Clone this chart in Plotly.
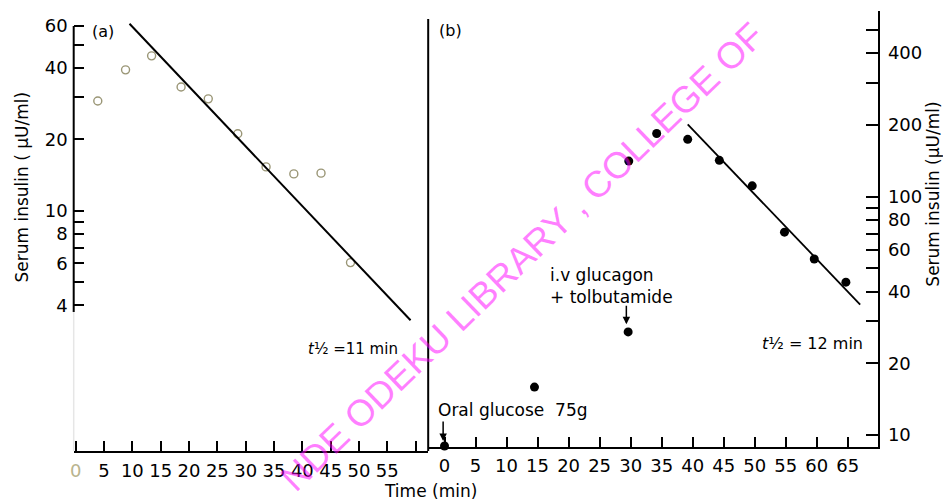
import plotly.graph_objects as go
import math

# ---------------- data ----------------
# Panel (a): open circles
time_a = [3.9, 8.8, 13.4, 18.6, 23.4, 28.6, 33.6, 38.5, 43.3, 48.5]
insulin_a = [29.0, 39.2, 44.9, 33.2, 29.6, 21.1, 15.3, 14.3, 14.4, 6.05]
fit_a_time = [9.5, 59.1]
fit_a_val = [61.3, 3.46]

# Panel (b): filled circles
time_b = [0, 14.5, 29.6, 29.7, 34.2, 39.2, 44.3, 49.6, 54.8, 59.6, 64.7]
insulin_b = [9.0, 15.9, 27.1, 141, 184, 174, 142, 111, 71, 54.8, 43.8]
fit_b_time = [39.2, 67.0]
fit_b_val = [201, 35.3]

x_ticks_a = list(range(0, 65, 5))
x_labels_a = ["<span style='color:#b9b48e'>0</span>"] + [str(v) for v in range(5, 60, 5)] + [""]
x_ticks_b = list(range(0, 70, 5))
x_labels_b = [str(v) for v in x_ticks_b]
y_ticks_a = [4, 5, 6, 7, 8, 9, 10, 20, 30, 40, 50, 60]
y_labels_a = ["4", "", "6", "", "8", "", "10", "20", "", "40", "", "60"]
y_ticks_b = [10, 20, 30, 40, 50, 60, 70, 80, 90, 100, 200, 300, 400, 500, 600]
y_labels_b = ["10", "20", "", "40", "", "60", "", "80", "", "100", "200", "", "400", "", ""]

W, H = 943, 502
def xf(px):
    return px / W
def yf(py):
    return 1 - py / H

FONT = "DejaVu Sans"

fig = go.Figure()

fig.add_trace(go.Scatter(x=time_a, y=insulin_a, mode="markers",
                         marker=dict(symbol="circle-open", size=8, color="#9a9676", line=dict(width=1.4)),
                         xaxis="x", yaxis="y", showlegend=False, cliponaxis=False))
fig.add_trace(go.Scatter(x=fit_a_time, y=fit_a_val, mode="lines",
                         line=dict(color="black", width=2), xaxis="x", yaxis="y", showlegend=False))
fig.add_trace(go.Scatter(x=time_b, y=insulin_b, mode="markers",
                         marker=dict(symbol="circle", size=9, color="black"),
                         xaxis="x2", yaxis="y2", showlegend=False, cliponaxis=False))
fig.add_trace(go.Scatter(x=fit_b_time, y=fit_b_val, mode="lines",
                         line=dict(color="black", width=1.8), xaxis="x2", yaxis="y2", showlegend=False))

# pixel scales
ppd_a = 238.0   # px per decade, panel a
ppd_b = 239.0   # px per decade, panel b

tickfont = dict(family=FONT, size=18, color="black")

fig.update_layout(
    width=W, height=H, margin=dict(l=0, r=0, t=0, b=0),
    paper_bgcolor="white", plot_bgcolor="white",
    xaxis=dict(domain=[xf(70), xf(426)], range=[(70 - 72) / 5.69, (426 - 72) / 5.69],
               anchor="y", tickmode="array", tickvals=x_ticks_a, ticktext=x_labels_a,
               ticks="inside", ticklen=10, tickwidth=1.6, tickcolor="black",
               showline=True, linewidth=2, linecolor="black", showgrid=False, zeroline=False,
               tickfont=tickfont, ticklabelstandoff=2),
    yaxis=dict(type="log", domain=[yf(451), yf(15)],
               range=[math.log10(60) - (451 - 25) / ppd_a, math.log10(60) + (25 - 15) / ppd_a],
               anchor="x", tickmode="array", tickvals=y_ticks_a, ticktext=y_labels_a,
               ticks="inside", ticklen=10, tickwidth=1.6, tickcolor="black",
               showline=False, showgrid=False, zeroline=False, tickfont=tickfont,
               ticklabelstandoff=5),
    xaxis2=dict(domain=[xf(426), xf(878)], range=[(426 - 442.4) / 6.23, (878 - 442.4) / 6.23],
                anchor="y2", tickmode="array", tickvals=x_ticks_b, ticktext=x_labels_b,
                ticks="inside", ticklen=10, tickwidth=1.6, tickcolor="black",
                showline=True, linewidth=2, linecolor="black", showgrid=False, zeroline=False,
                tickfont=tickfont, ticklabelstandoff=1),
    yaxis2=dict(type="log", domain=[yf(447), yf(10)],
                range=[1 - (447 - 435) / ppd_b, 1 + (435 - 10) / ppd_b + 0.0005],
                anchor="x2", side="right", tickmode="array", tickvals=y_ticks_b, ticktext=y_labels_b,
                ticks="inside", ticklen=12, tickwidth=1.6, tickcolor="black",
                showline=True, linewidth=2, linecolor="black", showgrid=False, zeroline=False,
                tickfont=tickfont, ticklabelstandoff=4),
)

shapes = [
    # divider between panels
    dict(type="line", xref="paper", yref="paper", x0=xf(426), x1=xf(426), y0=yf(18), y1=yf(451),
         line=dict(color="black", width=2)),
    # left axis of panel (a), dark part
    dict(type="line", xref="paper", yref="y", x0=xf(70), x1=xf(70), y0=3.75, y1=60,
         line=dict(color="black", width=2)),
    # faded lower part
    dict(type="line", xref="paper", yref="y", x0=xf(70), x1=xf(70), y0=0.93, y1=3.75,
         line=dict(color="#e6e6e6", width=1.5)),
]
fig.update_layout(shapes=shapes)

def txt(text, px, py, size=16, xanchor="center", angle=0, color="black", family=FONT, align="center"):
    return dict(text=text, x=xf(px), y=yf(py), xref="paper", yref="paper", showarrow=False,
                xanchor=xanchor, yanchor="middle", textangle=angle, align=align,
                font=dict(family=family, size=size, color=color))

def arrow(px, py_tip, py_tail):
    return dict(text="", x=xf(px), y=yf(py_tip), xref="paper", yref="paper", showarrow=True,
                ax=0, ay=-(py_tip - py_tail), arrowhead=2, arrowsize=1, arrowwidth=1.5,
                arrowcolor="black")

annotations = [
    txt("(a)", 99, 31, 16),
    txt("(b)", 448, 30, 16),
    txt("<i>t</i>½ =11 min", 350, 349, 15),
    txt("<i>t</i>½ = 12 min", 812, 343, 16),
    txt("Oral glucose  75g", 434, 410, 17, xanchor="left"),
    txt("i.v glucagon<br>+ tolbutamide", 546, 286, 17, xanchor="left", align="left"),
    arrow(441, 441, 420),
    arrow(625, 324, 304),
    txt("Serum insulin ( μU/ml)", 18, 186, 17, angle=-90),
    txt("Serum insulin (μU/ml)", 933, 194, 17, angle=-90),
    txt("Time (min)", 428, 491, 17),
    txt("NDE ODEKU LIBRARY , COLLEGE OF", 521, 256, 37, angle=-44,
        color="rgba(255,0,255,0.5)", family="Liberation Sans"),
]
fig.update_layout(annotations=annotations)

fig.write_html("out.html", config={"displayModeBar": False},
               post_script="document.body.style.margin='0';document.body.style.overflow='hidden';")
